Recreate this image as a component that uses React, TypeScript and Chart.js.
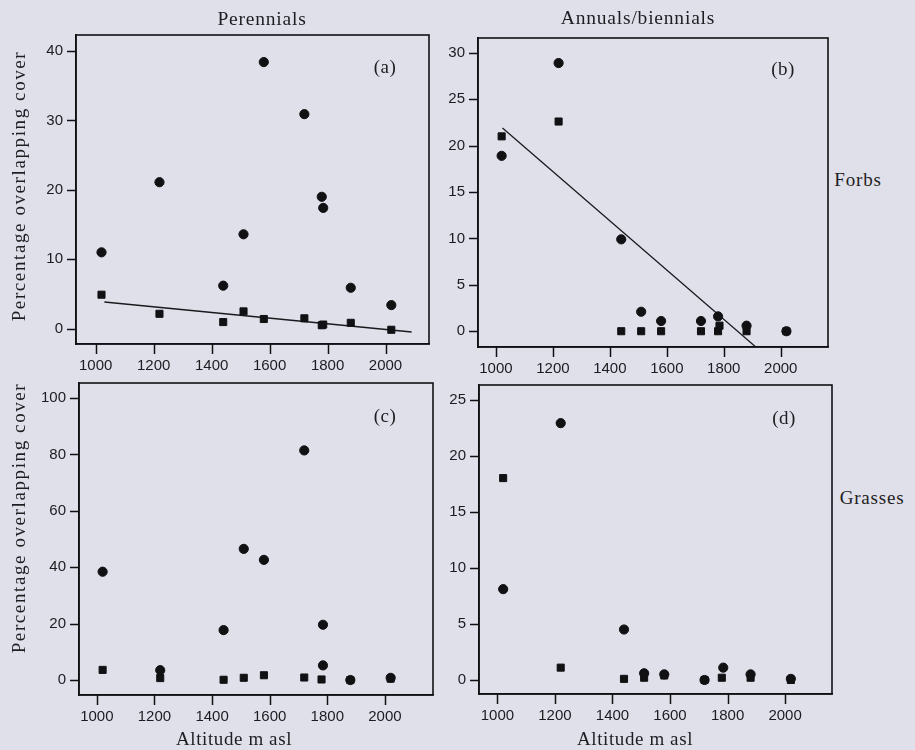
import React, { useEffect, useRef } from "react";
import { Chart, registerables } from "chart.js";

Chart.register(...registerables);

// ---------- data ----------
const altitudeTicks = [1000, 1200, 1400, 1600, 1800, 2000];

// (a) Perennial forbs
const aCircX = [1020, 1220, 1440, 1510, 1580, 1720, 1780, 1785, 1880, 2020];
const aCircY = [11, 21.1, 6.2, 13.6, 38.4, 30.9, 19.0, 17.4, 5.9, 3.4];
const aSqX = [1020, 1220, 1440, 1510, 1580, 1720, 1780, 1785, 1880, 2020];
const aSqY = [4.9, 2.15, 0.96, 2.5, 1.4, 1.5, 0.5, 0.6, 0.85, -0.15];
const aLineX = [1030, 2090];
const aLineY = [3.85, -0.47];
const aYTicks = [0, 10, 20, 30, 40];

// (b) Annual/biennial forbs
const bCircX = [1020, 1220, 1440, 1510, 1580, 1720, 1780, 1880, 2020];
const bCircY = [18.9, 28.9, 9.9, 2.1, 1.1, 1.1, 1.6, 0.6, 0];
const bSqX = [1020, 1220, 1440, 1510, 1580, 1720, 1780, 1785, 1880, 2020];
const bSqY = [21.0, 22.6, 0, 0, 0, 0, 0, 0.6, 0, 0];
const bLineX = [1023, 1920];
const bLineY = [21.9, -1.9];
const bYTicks = [0, 5, 10, 15, 20, 25, 30];

// (c) Perennial grasses
const cCircX = [1020, 1220, 1440, 1510, 1580, 1720, 1785, 1785, 1880, 2020];
const cCircY = [38.4, 3.5, 17.7, 46.5, 42.6, 81.4, 19.6, 5.2, 0, 0.8];
const cSqX = [1020, 1220, 1440, 1510, 1580, 1720, 1780, 1880, 2020];
const cSqY = [3.6, 0.7, 0.1, 0.8, 1.7, 0.9, 0.2, 0, 0.5];
const cYTicks = [0, 20, 40, 60, 80, 100];

// (d) Annual/biennial grasses
const dCircX = [1020, 1220, 1440, 1510, 1580, 1720, 1785, 1880, 2020];
const dCircY = [8.1, 22.9, 4.5, 0.6, 0.5, 0, 1.1, 0.5, 0.1];
const dSqX = [1020, 1220, 1440, 1510, 1580, 1720, 1780, 1880, 2020];
const dSqY = [18.0, 1.1, 0.1, 0.2, 0.4, 0, 0.2, 0.2, 0];
const dYTicks = [0, 5, 10, 15, 20, 25];

// ---------- style ----------
const INK = "#111114";
const BG = "#dfe0ea";
const SERIF = "'Liberation Serif', 'Times New Roman', serif";
const SANS = "'Liberation Sans', Arial, sans-serif";

const PAD_L = 48;
const PAD_T = 6;
const PAD_R = 6;
const PAD_B = 34;
const X_TICK_LEN = 10;
const Y_TICK_LEN = 9;

type Box = { l: number; t: number; r: number; b: number };
type Spec = {
  box: Box;
  xMin: number;
  xMax: number;
  yMin: number;
  yMax: number;
  yTicks: number[];
  circX: number[];
  circY: number[];
  sqX: number[];
  sqY: number[];
  lineX?: number[];
  lineY?: number[];
};

const zip = (xs: number[], ys: number[]) => xs.map((x, i) => ({ x, y: ys[i] }));

// frame around the plot area + outward tick marks on the scales' own tick positions
const framePlugin = {
  id: "frame",
  afterDraw(chart: any) {
    const { ctx, chartArea } = chart;
    const xs = chart.scales.x;
    const ys = chart.scales.y;
    ctx.save();
    ctx.strokeStyle = INK;
    ctx.lineWidth = 1.6;
    ctx.strokeRect(chartArea.left, chartArea.top, chartArea.right - chartArea.left, chartArea.bottom - chartArea.top);
    ctx.lineWidth = 1.5;
    ctx.beginPath();
    xs.ticks.forEach((t: any) => {
      const px = Math.round(xs.getPixelForValue(t.value)) + 0.5;
      ctx.moveTo(px, chartArea.bottom);
      ctx.lineTo(px, chartArea.bottom + X_TICK_LEN);
    });
    ys.ticks.forEach((t: any) => {
      const py = Math.round(ys.getPixelForValue(t.value)) + 0.5;
      ctx.moveTo(chartArea.left, py);
      ctx.lineTo(chartArea.left - Y_TICK_LEN, py);
    });
    ctx.stroke();
    ctx.restore();
  },
};

function Panel({ spec }: { spec: Spec }) {
  const ref = useRef<HTMLCanvasElement>(null);
  const w = spec.box.r - spec.box.l + PAD_L + PAD_R;
  const h = spec.box.b - spec.box.t + PAD_T + PAD_B;

  useEffect(() => {
    if (!ref.current) return;
    const datasets: any[] = [
      {
        data: zip(spec.circX, spec.circY),
        pointStyle: "circle",
        pointRadius: 4.6,
        backgroundColor: INK,
        borderColor: INK,
        borderWidth: 1,
      },
      {
        data: zip(spec.sqX, spec.sqY),
        pointStyle: "rect",
        pointRadius: 5,
        backgroundColor: INK,
        borderColor: INK,
        borderWidth: 1,
      },
    ];
    if (spec.lineX && spec.lineY) {
      datasets.push({
        data: zip(spec.lineX, spec.lineY),
        showLine: true,
        pointRadius: 0,
        borderColor: "#1a1a1e",
        borderWidth: 1.3,
        fill: false,
      });
    }
    const chart = new Chart(ref.current, {
      type: "scatter",
      data: { datasets },
      options: {
        animation: false,
        responsive: false,
        devicePixelRatio: 1,
        layout: { padding: { left: 0, top: PAD_T, right: PAD_R, bottom: 0 } },
        plugins: { legend: { display: false }, tooltip: { enabled: false } },
        scales: {
          x: {
            type: "linear",
            min: spec.xMin,
            max: spec.xMax,
            afterBuildTicks: (scale: any) => {
              scale.ticks = altitudeTicks.map((v) => ({ value: v }));
            },
            afterFit: (scale: any) => {
              scale.height = PAD_B;
              scale.paddingLeft = 0;
              scale.paddingRight = 0;
            },
            grid: { display: false, drawOnChartArea: false, drawTicks: false },
            border: { display: true, color: INK, width: 1.6 },
            ticks: {
              color: "#1c1c20",
              font: { family: SANS, size: 15 },
              padding: X_TICK_LEN + 3,
              maxRotation: 0,
              autoSkip: false,
              callback: (v: any) => String(v),
            },
          },
          y: {
            type: "linear",
            min: spec.yMin,
            max: spec.yMax,
            afterBuildTicks: (scale: any) => {
              scale.ticks = spec.yTicks.map((v) => ({ value: v }));
            },
            afterFit: (scale: any) => {
              scale.width = PAD_L;
              scale.paddingTop = 0;
              scale.paddingBottom = 0;
            },
            grid: { display: false, drawOnChartArea: false, drawTicks: false },
            border: { display: true, color: INK, width: 1.6 },
            ticks: {
              color: "#1c1c20",
              font: { family: SANS, size: 15 },
              padding: Y_TICK_LEN + 4,
              autoSkip: false,
              callback: (v: any) => String(v),
            },
          },
        },
      },
      plugins: [framePlugin],
    });
    return () => chart.destroy();
  }, []);

  return (
    <canvas
      ref={ref}
      width={w}
      height={h}
      style={{
        position: "absolute",
        left: spec.box.l - PAD_L,
        top: spec.box.t - PAD_T,
        width: w,
        height: h,
      }}
    />
  );
}

function Label({
  text,
  cx,
  cy,
  size = 19,
  rotate = false,
  spacing = 0.8,
}: {
  text: string;
  cx: number;
  cy: number;
  size?: number;
  rotate?: boolean;
  spacing?: number;
}) {
  return (
    <div
      style={{
        position: "absolute",
        left: cx,
        top: cy,
        transform: `translate(-50%, -50%)${rotate ? " rotate(-90deg)" : ""}`,
        fontFamily: SERIF,
        fontSize: size,
        lineHeight: 1,
        letterSpacing: spacing,
        whiteSpace: "nowrap",
        color: "#1e1e22",
      }}
    >
      {text}
    </div>
  );
}

const specs: Spec[] = [
  {
    box: { l: 76, t: 35, r: 429, b: 344 },
    xMin: 932, xMax: 2150, yMin: -2.2, yMax: 42.3, yTicks: aYTicks,
    circX: aCircX, circY: aCircY, sqX: aSqX, sqY: aSqY, lineX: aLineX, lineY: aLineY,
  },
  {
    box: { l: 478, t: 38, r: 828, b: 347 },
    xMin: 937, xMax: 2166, yMin: -1.7, yMax: 31.6, yTicks: bYTicks,
    circX: bCircX, circY: bCircY, sqX: bSqX, sqY: bSqY, lineX: bLineX, lineY: bLineY,
  },
  {
    box: { l: 79, t: 383, r: 433, b: 695 },
    xMin: 938, xMax: 2167, yMin: -5.3, yMax: 105.3, yTicks: cYTicks,
    circX: cCircX, circY: cCircY, sqX: cSqX, sqY: cSqY,
  },
  {
    box: { l: 479, t: 385, r: 832, b: 694 },
    xMin: 936, xMax: 2163, yMin: -1.25, yMax: 26.3, yTicks: dYTicks,
    circX: dCircX, circY: dCircY, sqX: dSqX, sqY: dSqY,
  },
];

export default function App() {
  return (
    <div
      style={{
        position: "absolute",
        left: 0,
        top: 0,
        width: 915,
        height: 750,
        background: BG,
        overflow: "hidden",
      }}
    >
      {specs.map((s, i) => (
        <Panel key={i} spec={s} />
      ))}
      <Label text="Perennials" cx={262} cy={19} size={19.5} />
      <Label text="Annuals/biennials" cx={638} cy={18} size={19.5} />
      <Label text="Forbs" cx={858} cy={179} />
      <Label text="Grasses" cx={872} cy={497} />
      <Label text="(a)" cx={385} cy={66} spacing={0.5} />
      <Label text="(b)" cx={783} cy={68} spacing={0.5} />
      <Label text="(c)" cx={385} cy={415} spacing={0.5} />
      <Label text="(d)" cx={784} cy={417} spacing={0.5} />
      <Label text="Percentage overlapping cover" cx={18} cy={186} rotate spacing={1.6} />
      <Label text="Percentage overlapping cover" cx={18} cy={518} rotate spacing={1.6} />
      <Label text="Altitude m asl" cx={234} cy={738} spacing={0.6} />
      <Label text="Altitude m asl" cx={635} cy={738} spacing={0.6} />
    </div>
  );
}
